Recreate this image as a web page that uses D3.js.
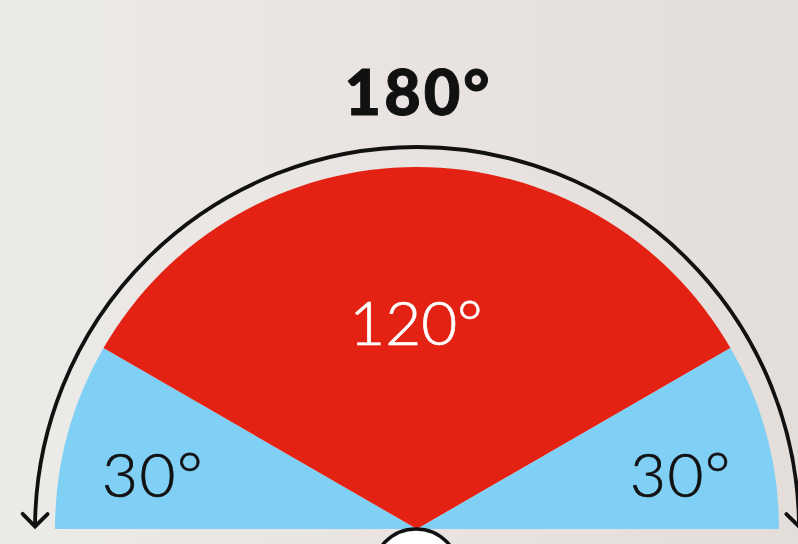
<!DOCTYPE html>
<html>
<head>
<meta charset="utf-8">
<script src="https://cdn.jsdelivr.net/npm/d3@7"></script>
<style>
  html, body { margin: 0; padding: 0; }
  body { width: 798px; height: 544px; overflow: hidden; }
  svg { display: block; }
</style>
</head>
<body>
<svg id="chart" width="798" height="544"></svg>
<script>
// ---- data ----
const sliceLabels = ["30°", "120°", "30°"];
const sliceValues = [30, 120, 30];
const sliceColors = ["#80cff4", "#e32213", "#80cff4"];
const labelColors = ["#111111", "#ffffff", "#111111"];
const totalLabel = "180°";

// ---- layout ----
const W = 798, H = 544;
const cx = 417, cy = 529;
const R = 362;          // semicircle radius
const RA = 382;         // arrow arc radius

const svg = d3.select("#chart");

// background
const defs = svg.append("defs");
const bg = defs.append("linearGradient").attr("id", "bg").attr("x1", 0).attr("x2", 1).attr("y1", 0).attr("y2", 0);
bg.append("stop").attr("offset", "0%").attr("stop-color", "#ecebe7");
bg.append("stop").attr("offset", "50%").attr("stop-color", "#e9e4e1");
bg.append("stop").attr("offset", "100%").attr("stop-color", "#e4dedb");
svg.append("rect").attr("width", W).attr("height", H).attr("fill", "url(#bg)");

// arrow marker
defs.append("marker")
  .attr("id", "arrow")
  .attr("viewBox", "-16 -16 32 32")
  .attr("refX", 0).attr("refY", 0)
  .attr("markerWidth", 32).attr("markerHeight", 32)
  .attr("markerUnits", "userSpaceOnUse")
  .attr("orient", "auto-start-reverse")
  .append("path")
  .attr("d", "M-12,-12.5 L0.5,0 L-12,12.5")
  .attr("fill", "none")
  .attr("stroke", "#111")
  .attr("stroke-width", 3.8)
  .attr("stroke-linecap", "round")
  .attr("stroke-linejoin", "miter");

const data = sliceValues.map((v, i) => ({ label: sliceLabels[i], value: v, color: sliceColors[i], textColor: labelColors[i] }));

const pie = d3.pie().value(d => d.value).sort(null)
  .startAngle(-Math.PI / 2).endAngle(Math.PI / 2);
const arcs = pie(data);

const arc = d3.arc().innerRadius(0).outerRadius(R);

const g = svg.append("g").attr("transform", `translate(${cx},${cy})`);

g.selectAll("path.slice").data(arcs).join("path")
  .attr("class", "slice")
  .attr("d", arc)
  .attr("fill", d => d.data.color);

// labels
g.selectAll("text.lbl").data(arcs).join("text")
  .attr("class", "lbl")
  .attr("x", d => {
    const a = (d.startAngle + d.endAngle) / 2;
    const big = d.data.value > 60;
    return Math.sin(a) * R * (big ? 0 : 0.755) - (big ? 1 : 0);
  })
  .attr("y", d => d.data.value > 60 ? -184 : -32)
  .attr("text-anchor", "middle")
  .attr("fill", d => d.data.textColor)
  .attr("stroke", d => d.data.textColor)
  .attr("stroke-width", 0.7)
  .style("font-family", "Lato, 'Open Sans', sans-serif")
  .style("font-weight", 300)
  .style("font-size", "62px")
  .style("letter-spacing", d => d.data.value > 60 ? "0px" : "1.5px")
  .text(d => d.data.label);

// outer arrow arc
const a0 = -Math.PI / 2 + 0.008, a1 = Math.PI / 2 - 0.008;
const p = d3.path();
p.moveTo(Math.sin(a0) * RA, -Math.cos(a0) * RA);
p.arc(0, 0, RA, a0 - Math.PI / 2, a1 - Math.PI / 2, false);
g.append("path")
  .attr("d", p.toString())
  .attr("fill", "none")
  .attr("stroke", "#111")
  .attr("stroke-width", 3.8)
  .attr("marker-start", "url(#arrow)")
  .attr("marker-end", "url(#arrow)");

// center circle
g.append("circle")
  .attr("cx", -1).attr("cy", 43)
  .attr("r", 43)
  .attr("fill", "#ffffff")
  .attr("stroke", "#111")
  .attr("stroke-width", 3.5);

// title
svg.append("text")
  .attr("x", cx + 1.5).attr("y", 115)
  .attr("text-anchor", "middle")
  .attr("fill", "#111")
  .attr("stroke", "#111")
  .attr("stroke-width", 1)
  .style("font-family", "Lato, Inter, sans-serif")
  .style("font-weight", 900)
  .style("font-size", "63px")
  .style("letter-spacing", "3px")
  .text(totalLabel);
</script>
</body>
</html>
